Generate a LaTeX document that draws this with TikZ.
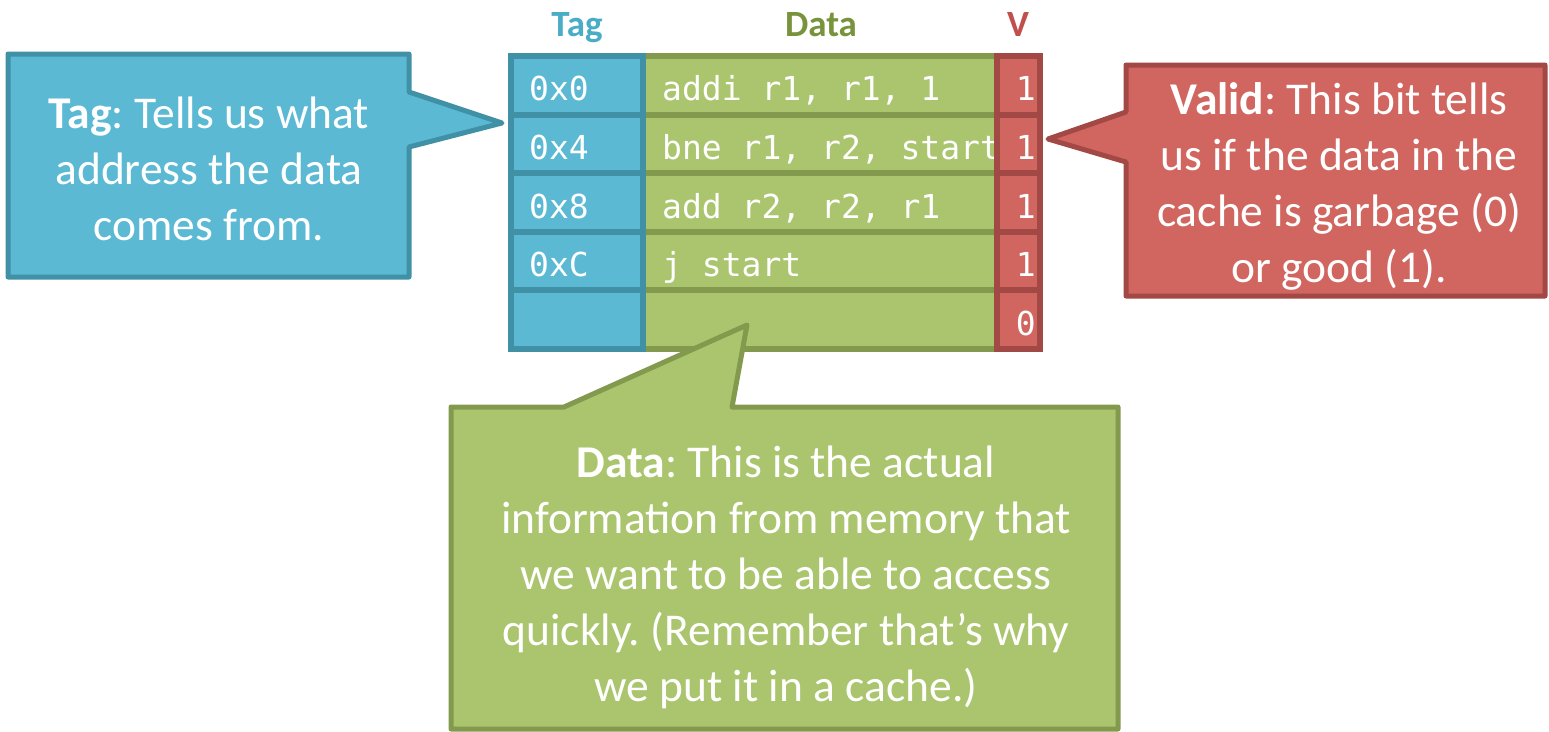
\documentclass[tikz,border=0pt]{standalone}
\usepackage{fontspec}
\setmainfont{Carlito}
\newfontfamily\codefont{DejaVu Sans Mono}
\definecolor{tagfill}{HTML}{5BB9D3}
\definecolor{tagline}{HTML}{4090A6}
\definecolor{taghead}{HTML}{4BACC6}
\definecolor{datfill}{HTML}{ABC56F}
\definecolor{datline}{HTML}{82994E}
\definecolor{dathead}{HTML}{77933C}
\definecolor{vfill}{HTML}{D0665F}
\definecolor{vline}{HTML}{A24845}
\definecolor{vhead}{HTML}{C0504D}
\frenchspacing
\begin{document}
\begin{tikzpicture}[x=1pt,y=-1pt,
  tagcell/.style={fill=tagfill,draw=tagline,line width=6pt},
  datcell/.style={fill=datfill,draw=datline,line width=6pt},
  vcell/.style={fill=vfill,draw=vline,line width=6pt},
  code/.style={text=white,inner sep=0pt,font=\codefont\fontsize{33}{38}\selectfont},
  head/.style={inner sep=0pt,anchor=base,font=\bfseries\fontsize{37}{44}\selectfont},
  callout/.style={line width=5pt,line join=round},
  note/.style={text=white,align=center,inner sep=0pt,font=\fontsize{45.5}{56}\selectfont}]
\useasboundingbox (0,0) rectangle (1549,731);

% column headings
\node[head,text=taghead] (hTag) at (577,36) {Tag};
\node[head,text=dathead] (hData) at (821,36) {Data};
\node[head,text=vhead] (hV) at (1018,36) {V};

% data column cells
\foreach \i in {0,...,4}{
  \pgfmathsetmacro\ya{56+\i*58.6}
  \pgfmathsetmacro\yb{\ya+58.6}
  \draw[datcell] (643,\ya) rectangle (997,\yb);
}
% tag column cells
\foreach \i in {0,...,4}{
  \pgfmathsetmacro\ya{56+\i*58.6}
  \pgfmathsetmacro\yb{\ya+58.6}
  \draw[tagcell] (510.5,\ya) rectangle (643,\yb);
}

% tag and data entries
\node[code,anchor=base west] (t0) at (529,100) {0x0};
\node[code,anchor=base west] (t1) at (529,159) {0x4};
\node[code,anchor=base west] (t2) at (529,218) {0x8};
\node[code,anchor=base west] (t3) at (529,276) {0xC};
\node[code,anchor=base west] (d0) at (662,100) {addi r1, r1, 1};
\node[code,anchor=base west] (d1) at (662,159) {bne r1, r2, start};
\node[code,anchor=base west] (d2) at (662,218) {add r2, r2, r1};
\node[code,anchor=base west] (d3) at (662,276) {j start};

% valid bit column, drawn over the data that runs past its cell
\foreach \i in {0,...,4}{
  \pgfmathsetmacro\ya{56+\i*58.6}
  \pgfmathsetmacro\yb{\ya+58.6}
  \draw[vcell] (997,\ya) rectangle (1040,\yb);
}
\node[code,anchor=base east] (v0) at (1036,100) {1};
\node[code,anchor=base east] (v1) at (1036,159) {1};
\node[code,anchor=base east] (v2) at (1036,218) {1};
\node[code,anchor=base east] (v3) at (1036,276) {1};
\node[code,anchor=base east] (v4) at (1036,335) {0};

% tag callout
\draw[callout,fill=tagfill,draw=tagline]
  (8,54) -- (409,54) -- (409,92) -- (502,123) -- (409,147) -- (409,277) -- (8,277) -- cycle;
\node[note] (tagnote) at (209,169) {\textbf{Tag}: Tells us what\\address the data\\comes from.};

% valid callout
\draw[callout,fill=vfill,draw=vline]
  (1126,65) -- (1545,65) -- (1545,296) -- (1126,296) -- (1126,162) -- (1048,139) -- (1126,112) -- cycle;
\node[note] (validnote) at (1339,186) {\textbf{Valid}: This bit tells\\us if the data in the\\cache is garbage (0)\\or good (1).};

% data callout
\draw[callout,fill=datfill,draw=datline]
  (451,407) -- (564,407) -- (747,325) -- (732,407) -- (1118,407) -- (1118,729) -- (451,729) -- cycle;
\node[note] (datanote) at (786,577) {\textbf{Data}: This is the actual\\information from memory that\\we want to be able to access\\quickly. (Remember that’s why\\we put it in a cache.)};
\end{tikzpicture}
\end{document}
